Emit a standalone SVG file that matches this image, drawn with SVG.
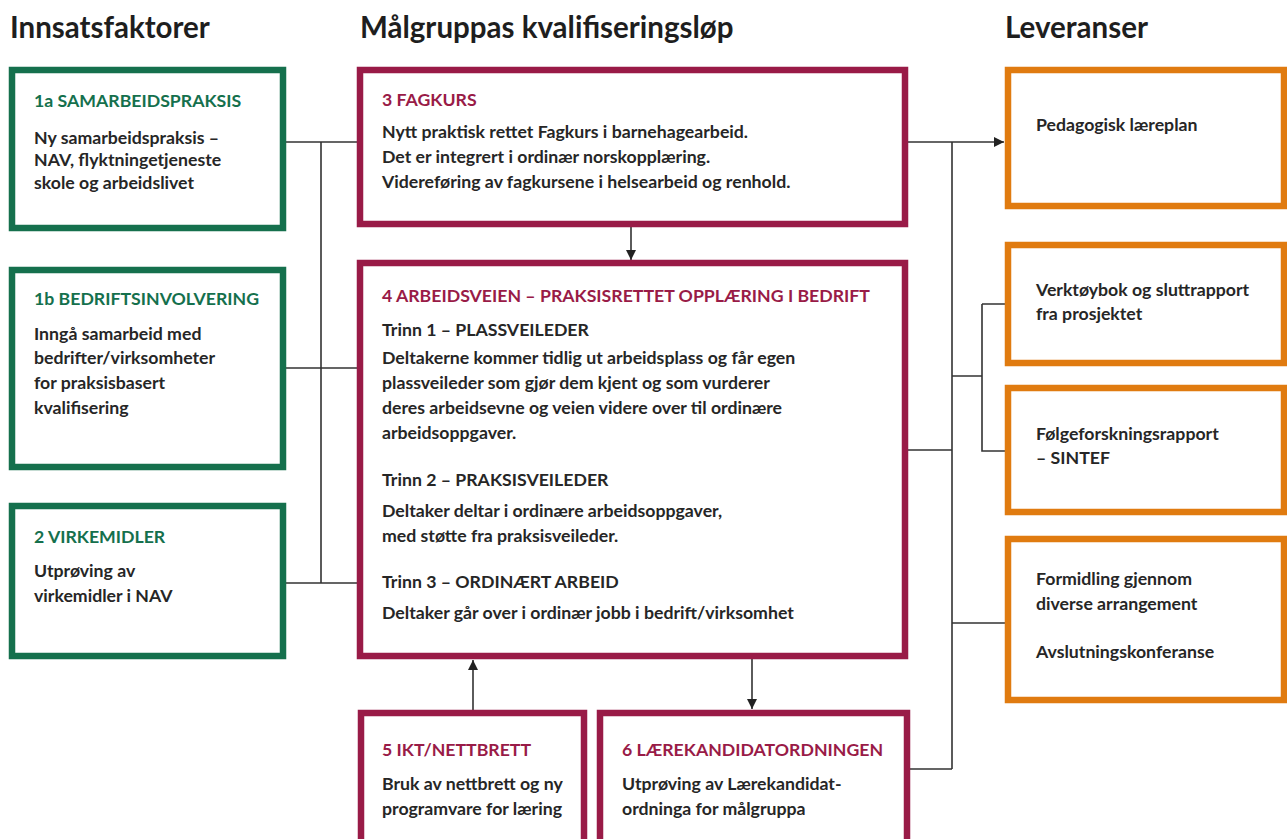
<svg xmlns="http://www.w3.org/2000/svg" width="1287" height="839" viewBox="0 0 1287 839">
<style>
.g{fill:#fff;stroke:#15704d;stroke-width:6.5}
.m{fill:#fff;stroke:#991b47;stroke-width:6.5}
.o{fill:#fff;stroke:#e07b10;stroke-width:6.5}
text{font-family:Lato,"Liberation Sans",sans-serif;font-weight:bold}
.h{font-size:29.5px;fill:#1e1e1e;font-weight:bold}
.tg{font-size:17.7px;fill:#15704d}
.tm{font-size:17.7px;fill:#991b47}
.b{font-size:17.7px;fill:#262626}
.c{fill:none;stroke:#333;stroke-width:1.6}
</style>
<defs>
<marker id="ar" viewBox="0 0 10 10" refX="10" refY="5" markerWidth="10" markerHeight="10" markerUnits="userSpaceOnUse" orient="auto"><path d="M0,0 L10,5 L0,10 z" fill="#222"/></marker>
</defs>
<g id="headers">
<text class="h" x="10" y="38">Innsatsfaktorer</text>
<text class="h" x="360" y="38">Målgruppas kvalifiseringsløp</text>
<text class="h" x="1005" y="38">Leveranser</text>
</g>
<g id="connectors">
<path class="c" d="M286,142 H357 M286,368 H357 M286,583 H357 M321,142 V583"/>
<path class="c" d="M908,142 H1004" marker-end="url(#ar)"/>
<path class="c" d="M952,142 V769 M908,450 H952 M909,769 H952 M952,376 H982 M982,304 V451 H1005 M982,304 H1005 M952,623 H1005"/>
<path class="c" d="M631,227 V260" marker-end="url(#ar)"/>
<path class="c" d="M473,710 V660" marker-end="url(#ar)"/>
<path class="c" d="M752,659 V709" marker-end="url(#ar)"/>
</g>
<g id="n1a">
<rect class="g" x="12" y="70" width="271" height="158"/>
<text class="tg" x="34" y="107">1a SAMARBEIDSPRAKSIS</text>
<text class="b" x="34" y="144">Ny samarbeidspraksis –</text>
<text class="b" x="34" y="166">NAV, flyktningetjeneste</text>
<text class="b" x="34" y="189">skole og arbeidslivet</text>
</g>
<g id="n1b">
<rect class="g" x="12" y="270" width="271" height="197"/>
<text class="tg" x="34" y="305">1b BEDRIFTSINVOLVERING</text>
<text class="b" x="34" y="340">Inngå samarbeid med</text>
<text class="b" x="34" y="364">bedrifter/virksomheter</text>
<text class="b" x="34" y="389">for praksisbasert</text>
<text class="b" x="34" y="414">kvalifisering</text>
</g>
<g id="n2">
<rect class="g" x="12" y="506" width="271" height="150"/>
<text class="tg" x="34" y="543">2 VIRKEMIDLER</text>
<text class="b" x="34" y="577">Utprøving av</text>
<text class="b" x="34" y="602">virkemidler i NAV</text>
</g>
<g id="n3">
<rect class="m" x="360" y="70" width="545" height="154"/>
<text class="tm" x="382" y="106">3 FAGKURS</text>
<text class="b" x="382" y="138">Nytt praktisk rettet Fagkurs i barnehagearbeid.</text>
<text class="b" x="382" y="163">Det er integrert i ordinær norskopplæring.</text>
<text class="b" x="382" y="188">Videreføring av fagkursene i helsearbeid og renhold.</text>
</g>
<g id="n4">
<rect class="m" x="360" y="263" width="545" height="393"/>
<text class="tm" x="382" y="302">4 ARBEIDSVEIEN – PRAKSISRETTET OPPLÆRING I BEDRIFT</text>
<text class="b" x="382" y="336">Trinn 1 – PLASSVEILEDER</text>
<text class="b" x="382" y="364">Deltakerne kommer tidlig ut arbeidsplass og får egen</text>
<text class="b" x="382" y="389">plassveileder som gjør dem kjent og som vurderer</text>
<text class="b" x="382" y="414">deres arbeidsevne og veien videre over til ordinære</text>
<text class="b" x="382" y="439">arbeidsoppgaver.</text>
<text class="b" x="382" y="486">Trinn 2 – PRAKSISVEILEDER</text>
<text class="b" x="382" y="517">Deltaker deltar i ordinære arbeidsoppgaver,</text>
<text class="b" x="382" y="542">med støtte fra praksisveileder.</text>
<text class="b" x="382" y="588">Trinn 3 – ORDINÆRT ARBEID</text>
<text class="b" x="382" y="619">Deltaker går over i ordinær jobb i bedrift/virksomhet</text>
</g>
<g id="n5">
<rect class="m" x="361" y="713" width="223" height="140"/>
<text class="tm" x="382" y="756">5 IKT/NETTBRETT</text>
<text class="b" x="382" y="790">Bruk av nettbrett og ny</text>
<text class="b" x="382" y="815">programvare for læring</text>
</g>
<g id="n6">
<rect class="m" x="600" y="713" width="307" height="140"/>
<text class="tm" x="622" y="756">6 LÆREKANDIDATORDNINGEN</text>
<text class="b" x="622" y="790">Utprøving av Lærekandidat-</text>
<text class="b" x="622" y="815">ordninga for målgruppa</text>
</g>
<g id="o1">
<rect class="o" x="1008" y="70" width="276" height="136"/>
<text class="b" x="1036" y="131">Pedagogisk læreplan</text>
</g>
<g id="o2">
<rect class="o" x="1008" y="245" width="276" height="118"/>
<text class="b" x="1036" y="296">Verktøybok og sluttrapport</text>
<text class="b" x="1036" y="320">fra prosjektet</text>
</g>
<g id="o3">
<rect class="o" x="1008" y="388" width="276" height="124"/>
<text class="b" x="1036" y="440">Følgeforskningsrapport</text>
<text class="b" x="1036" y="464">– SINTEF</text>
</g>
<g id="o4">
<rect class="o" x="1008" y="539" width="276" height="161"/>
<text class="b" x="1036" y="585">Formidling gjennom</text>
<text class="b" x="1036" y="610">diverse arrangement</text>
<text class="b" x="1036" y="658">Avslutningskonferanse</text>
</g>
</svg>
